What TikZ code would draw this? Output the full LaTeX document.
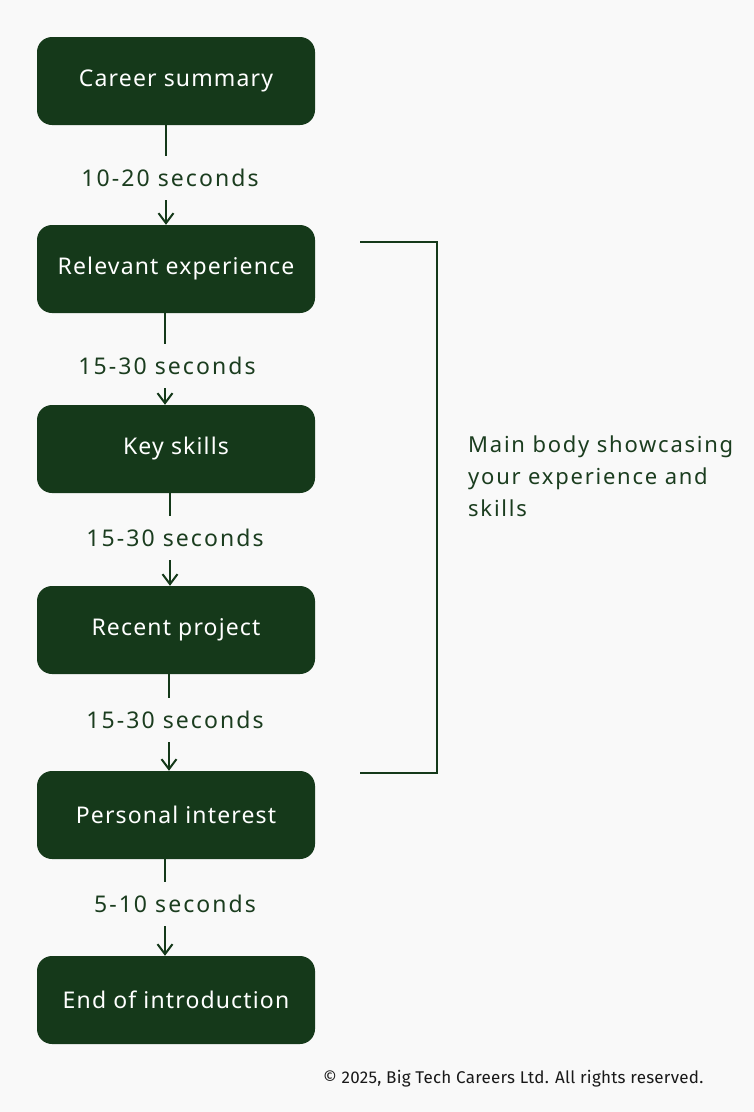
\documentclass[tikz,border=0pt]{standalone}
\usepackage{fontspec}
\setmainfont{Noto Sans}
\newfontfamily\boxfont[LetterSpace=5]{Noto Sans}
\newfontfamily\labfont[LetterSpace=9]{Noto Sans}
\newfontfamily\notefont[LetterSpace=8]{Noto Sans}
\newfontfamily\copyfont[LetterSpace=1.5]{Fira Sans}
\usetikzlibrary{arrows.meta}
\definecolor{bg}{HTML}{F9F9F9}
\definecolor{boxgreen}{HTML}{15391A}
\definecolor{txtgreen}{HTML}{1B3D1F}
\begin{document}
\begin{tikzpicture}[x=1pt,y=-1pt,
  stepbox/.style={fill=boxgreen, draw=none, rounded corners=15pt, minimum width=278pt, minimum height=88pt, text=white, font=\boxfont\fontsize{23}{26}\selectfont, inner sep=0pt},
  timelabel/.style={fill=bg, text=txtgreen, font=\labfont\fontsize{23}{26}\selectfont, minimum height=44pt, inner xsep=2pt, inner ysep=0pt},
  flow/.style={draw=boxgreen, line width=2.4pt, -{Straight Barb[length=10pt,width=15pt,line width=2pt]}},
  brace/.style={draw=boxgreen, line width=2.4pt}]
\useasboundingbox (0,0) rectangle (754,1112);
\fill[bg] (0,0) rectangle (754,1112);

\node[stepbox] (cs) at (176,81) {Career summary};
\node[stepbox] (re) at (176,269) {Relevant experience};
\node[stepbox] (ks) at (176,449) {Key skills};
\node[stepbox] (rp) at (176,630) {Recent project};
\node[stepbox] (pi) at (176,815) {Personal interest};
\node[stepbox] (ei) at (176,1000) {End of introduction};

\draw[flow] (cs.south -| 166,0) -- (re.north -| 166,0);
\draw[flow] (re.south -| 165,0) -- (ks.north -| 165,0);
\draw[flow] (ks.south -| 170,0) -- (rp.north -| 170,0);
\draw[flow] (rp.south -| 169,0) -- (pi.north -| 169,0);
\draw[flow] (pi.south -| 165,0) -- (ei.north -| 165,0);

\node[timelabel] (l1) at (170,178) {10-20 seconds};
\node[timelabel] (l2) at (167,366) {15-30 seconds};
\node[timelabel] (l3) at (175,538) {15-30 seconds};
\node[timelabel] (l4) at (175,720) {15-30 seconds};
\node[timelabel] (l5) at (175,904) {5-10 seconds};

\coordinate (bt) at (360,242);
\coordinate (bb) at (360,773);
\draw[brace] (bt) -- (437,242) -- (437,773) -- (bb);

\node[anchor=north west, text=txtgreen, font=\notefont\fontsize{22}{32}\selectfont, align=left, inner sep=0pt] (note) at (468,436) {Main body showcasing\\your experience and\\skills};

\node[anchor=base west, inner sep=0pt, font=\copyfont\fontsize{17}{19}\selectfont, text=black!90] (copy) at (323,1083) {© 2025, Big Tech Careers Ltd. All rights reserved.};
\end{tikzpicture}
\end{document}
